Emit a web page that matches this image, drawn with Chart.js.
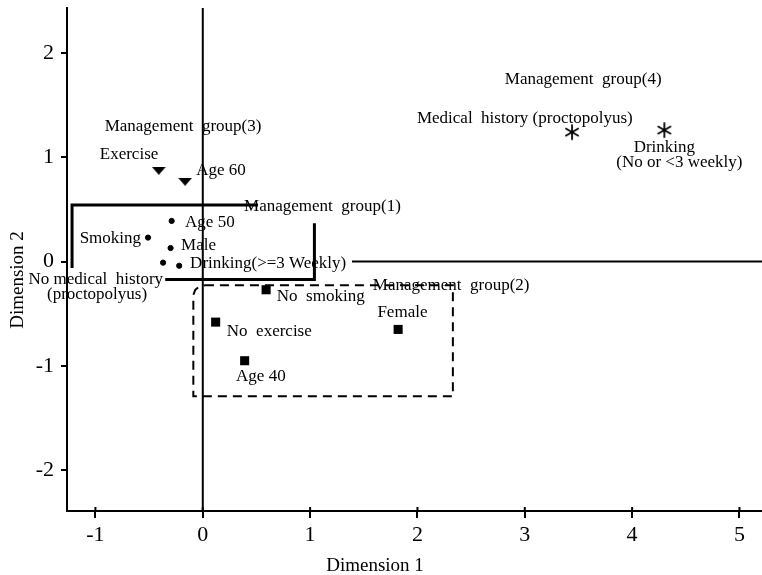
<!DOCTYPE html>
<html>
	<head>
		<title>Correspondence analysis</title>
		<meta name="viewport" content="width=device-width, initial-scale=1">
		<style>
html, body {
	margin: 0;
	background-color: #ffffff;
}
#wrap {
	width: 762px;
	height: 575px;
}
		</style>
	</head>
	<body>
		<div id="wrap"><canvas id="mapChart"></canvas></div>

		<script src="https://cdn.jsdelivr.net/npm/chart.js"></script>
		<script>
			// Category points (dimension 1, dimension 2)
			const circleNames = ['Age 50', 'Smoking', 'Male', 'No medical history', 'Drinking(>=3 Weekly)'];
			const circleX = [-0.29, -0.51, -0.30, -0.37, -0.22];
			const circleY = [0.39, 0.23, 0.13, -0.01, -0.04];

			const triangleNames = ['Exercise', 'Age 60'];
			const triangleX = [-0.41, -0.165];
			const triangleY = [0.87, 0.765];

			const squareNames = ['No smoking', 'No exercise', 'Age 40', 'Female'];
			const squareX = [0.59, 0.12, 0.39, 1.82];
			const squareY = [-0.27, -0.58, -0.95, -0.65];

			const starNames = ['Medical history (proctopolyus)', 'Drinking (No or <3 weekly)'];
			const starX = [3.44, 4.30];
			const starY = [1.24, 1.26];

			// group outlines
			const group1TopX = [0.515, -1.218, -1.218];
			const group1TopY = [0.542, 0.542, -0.062];
			const group1BottomX = [-0.35, 1.04, 1.04];
			const group1BottomY = [-0.171, -0.171, 0.367];
			const group2X = [0.02, 2.33, 2.33, -0.088, -0.088, -0.07, -0.035, 0.02];
			const group2Y = [-0.226, -0.226, -1.29, -1.29, -0.32, -0.27, -0.24, -0.226];

			// axes
			const xMin = -1.265, xMax = 5.21;
			const yMin = -2.39, yMax = 2.43;
			const xTicks = [-1, 0, 1, 2, 3, 4, 5];
			const yTicks = [-2, -1, 0, 1, 2];
			const zeroLineStart = 1.39;

			// text labels: [text, x, y, align]
			const labels = [
				['Management  group(4)', 3.544, 1.745, 'center'],
				['Medical  history (proctopolyus)', 3.00, 1.375, 'center'],
				['Drinking', 4.30, 1.09, 'center'],
				['(No or <3 weekly)', 4.44, 0.945, 'center'],
				['Management  group(3)', -0.184, 1.291, 'center'],
				['Exercise', -0.687, 1.022, 'center'],
				['Age 60', -0.062, 0.869, 'left'],
				['Management  group(1)', 0.385, 0.523, 'left'],
				['Age 50', -0.165, 0.379, 'left'],
				['Smoking', -0.575, 0.225, 'right'],
				['Male', -0.202, 0.151, 'left'],
				['Drinking(>=3 Weekly)', -0.118, -0.017, 'left'],
				['No medical  history', -0.370, -0.170, 'right'],
				['(proctopolyus)', -0.985, -0.312, 'center'],
				['No  smoking', 0.690, -0.338, 'left'],
				['Management  group(2)', 1.584, -0.226, 'left'],
				['Female', 1.860, -0.485, 'center'],
				['No  exercise', 0.224, -0.674, 'left'],
				['Age 40', 0.310, -1.099, 'left']
			];

			const serif = '"Liberation Serif", "DejaVu Serif", serif';

			function pts(xs, ys) {
				return xs.map((x, i) => ({ x: x, y: ys[i] }));
			}

			function makeTriangle() {
				const c = document.createElement('canvas');
				c.width = 14; c.height = 8;
				const g = c.getContext('2d');
				g.fillStyle = '#000';
				g.beginPath();
				g.moveTo(0, 0); g.lineTo(14, 0); g.lineTo(7, 8);
				g.closePath();
				g.fill();
				return c;
			}

			function makeAsterisk() {
				const c = document.createElement('canvas');
				c.width = 18; c.height = 18;
				const g = c.getContext('2d');
				g.strokeStyle = '#000';
				g.lineWidth = 1.8;
				g.lineCap = 'round';
				for (const a of [90, 30, 150]) {
					const r = a * Math.PI / 180;
					g.beginPath();
					g.moveTo(9 - 7 * Math.cos(r), 9 - 7 * Math.sin(r));
					g.lineTo(9 + 7 * Math.cos(r), 9 + 7 * Math.sin(r));
					g.stroke();
				}
				return c;
			}

			// drop the padding Chart.js reserves for edge tick labels
			function noPad(s) {
				s.paddingTop = 0; s.paddingBottom = 0;
				s.paddingLeft = 0; s.paddingRight = 0;
			}

			const lineStyle = { showLine: true, pointRadius: 0, borderColor: '#000', fill: false, tension: 0 };

			const labelPlugin = {
				id: 'labelPlugin',
				afterDraw(chart) {
					const ctx = chart.ctx;
					const xs = chart.scales.x, ys = chart.scales.y;
					ctx.save();
					ctx.fillStyle = '#000';
					ctx.font = '17px ' + serif;
					ctx.textBaseline = 'middle';
					labels.forEach(l => {
						ctx.textAlign = l[3];
						ctx.fillText(l[0], xs.getPixelForValue(l[1]), ys.getPixelForValue(l[2]));
					});
					// x ticks cross the axis line
					ctx.strokeStyle = '#000';
					ctx.lineWidth = 2;
					xTicks.forEach(v => {
						const px = xs.getPixelForValue(v);
						ctx.beginPath();
						ctx.moveTo(px, xs.top - 4);
						ctx.lineTo(px, xs.top);
						ctx.stroke();
					});
					// axis titles
					ctx.font = '19px ' + serif;
					ctx.textAlign = 'center';
					ctx.fillText('Dimension 1', 375, 566);
					ctx.translate(18, 280);
					ctx.rotate(-Math.PI / 2);
					ctx.fillText('Dimension 2', 0, 0);
					ctx.restore();
				}
			};

			const ctx = document.getElementById('mapChart').getContext('2d');

			new Chart(ctx, {
				type: 'scatter',
				data: {
					datasets: [
						{ ...lineStyle, data: [{ x: 0, y: yMin }, { x: 0, y: yMax }], borderWidth: 2 },
						{ ...lineStyle, data: [{ x: zeroLineStart, y: 0 }, { x: xMax, y: 0 }], borderWidth: 2 },
						{ ...lineStyle, data: pts(group1TopX, group1TopY), borderWidth: 3 },
						{ ...lineStyle, data: pts(group1BottomX, group1BottomY), borderWidth: 3 },
						{ ...lineStyle, data: pts(group2X, group2Y), borderWidth: 2, borderDash: [9, 6] },
						{
							label: 'circles', data: pts(circleX, circleY),
							pointStyle: 'circle', pointRadius: 2.6, backgroundColor: '#000', borderColor: '#000'
						},
						{
							label: 'triangles', data: pts(triangleX, triangleY),
							pointStyle: makeTriangle()
						},
						{
							label: 'squares', data: pts(squareX, squareY),
							pointStyle: 'rect', pointRadius: 6.4, backgroundColor: '#000', borderColor: '#000', borderWidth: 0
						},
						{
							label: 'stars', data: pts(starX, starY),
							pointStyle: makeAsterisk()
						}
					]
				},
				options: {
					responsive: true,
					maintainAspectRatio: false,
					animation: false,
					events: [],
					layout: { autoPadding: false, padding: { top: 8, right: 0, left: 0, bottom: 0 } },
					plugins: {
						legend: { display: false },
						tooltip: { enabled: false }
					},
					scales: {
						x: {
							type: 'linear',
							min: xMin,
							max: xMax,
							afterFit: (s) => { s.height = 64; noPad(s); },
							afterBuildTicks: (s) => { s.ticks = xTicks.map(v => ({ value: v })); },
							border: { color: '#000', width: 2 },
							grid: { display: true, drawOnChartArea: false, tickLength: 7, color: '#000', lineWidth: 2 },
							ticks: { color: '#000', font: { family: serif, size: 22 }, padding: 4 }
						},
						y: {
							type: 'linear',
							min: yMin,
							max: yMax,
							afterFit: (s) => { s.width = 67; noPad(s); },
							afterBuildTicks: (s) => { s.ticks = yTicks.map(v => ({ value: v })); },
							border: { color: '#000', width: 2 },
							grid: { display: true, drawOnChartArea: false, tickLength: 6, color: '#000', lineWidth: 2 },
							ticks: { color: '#000', font: { family: serif, size: 22 }, padding: 7 }
						}
					}
				},
				plugins: [labelPlugin]
			});
		</script>
	</body>
</html>
